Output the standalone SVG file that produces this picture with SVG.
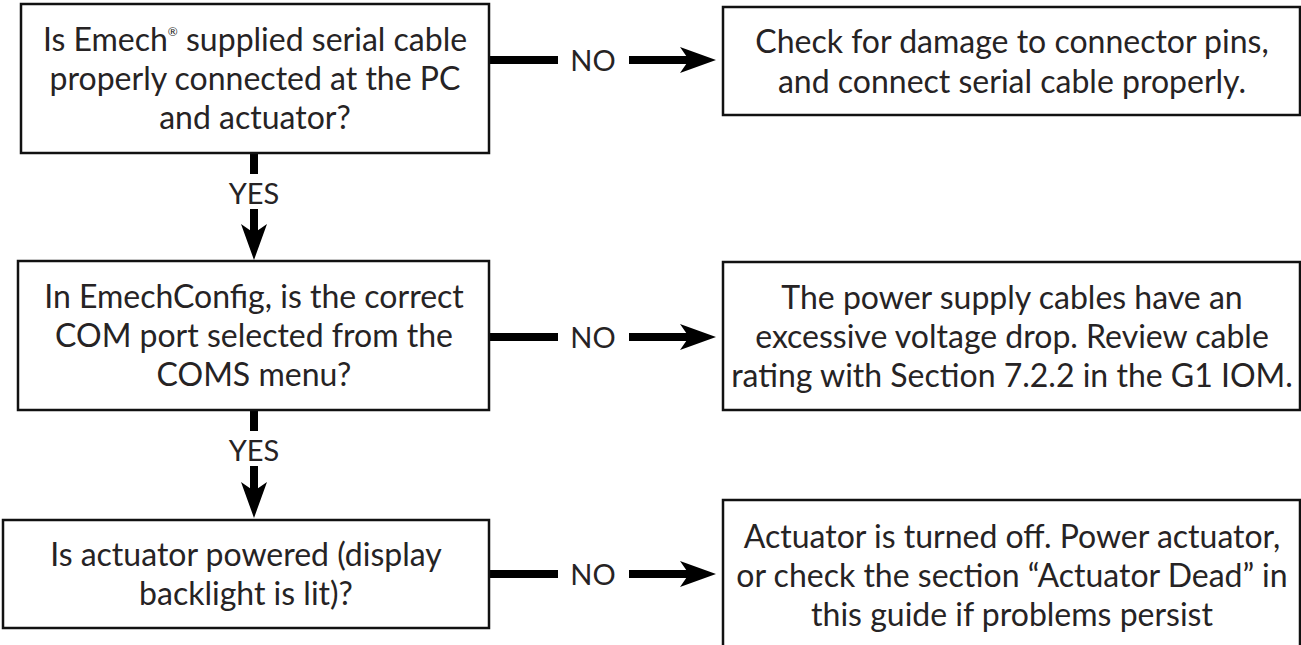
<svg xmlns="http://www.w3.org/2000/svg" width="1301" height="645" viewBox="0 0 1301 645">
<style>
.box{fill:#ffffff;stroke:#111111;stroke-width:2.5}
.t{font-family:Lato,"Open Sans","Liberation Sans",sans-serif;font-size:32px;fill:#262324;text-anchor:middle}
.lab{font-family:Lato,"Open Sans","Liberation Sans",sans-serif;font-size:29px;fill:#262324;text-anchor:middle}
.sh{stroke:#000000;stroke-width:8;fill:none}
.hd{fill:#000000}
</style>
<defs>
<path id="ah" d="M0 0 L-36 -13 L-27 0 L-36 13 Z"/>
</defs>
<rect width="1301" height="645" fill="#ffffff"/>
<g id="connectors">
<line class="sh" x1="489" y1="60" x2="558" y2="60"/>
<text class="lab" x="593" y="71">NO</text>
<line class="sh" x1="629" y1="60" x2="692" y2="60"/>
<use href="#ah" class="hd" transform="translate(716,60)"/>
<line class="sh" x1="489" y1="337" x2="558" y2="337"/>
<text class="lab" x="593" y="348">NO</text>
<line class="sh" x1="629" y1="337" x2="692" y2="337"/>
<use href="#ah" class="hd" transform="translate(716,337)"/>
<line class="sh" x1="489" y1="574" x2="558" y2="574"/>
<text class="lab" x="593" y="585">NO</text>
<line class="sh" x1="629" y1="574" x2="692" y2="574"/>
<use href="#ah" class="hd" transform="translate(716,574)"/>
<line class="sh" x1="254" y1="153" x2="254" y2="174"/>
<text class="lab" x="254" y="204">YES</text>
<line class="sh" x1="254" y1="209" x2="254" y2="236"/>
<use href="#ah" class="hd" transform="translate(254,260) rotate(90)"/>
<line class="sh" x1="254" y1="410" x2="254" y2="431"/>
<text class="lab" x="254" y="461">YES</text>
<line class="sh" x1="254" y1="466" x2="254" y2="494"/>
<use href="#ah" class="hd" transform="translate(254,518) rotate(90)"/>
</g>
<g id="q1">
<rect class="box" x="21" y="4" width="468" height="149"/>
<text class="t" x="255" y="51">Is Emech<tspan font-size="12" dy="-15">®</tspan><tspan dy="15"> supplied serial cable</tspan></text>
<text class="t" x="255" y="90">properly connected at the PC</text>
<text class="t" x="255" y="129">and actuator?</text>
</g>
<g id="a1">
<rect class="box" x="723" y="7" width="577" height="108"/>
<text class="t" x="1012" y="53">Check for damage to connector pins,</text>
<text class="t" x="1012" y="93">and connect serial cable properly.</text>
</g>
<g id="q2">
<rect class="box" x="18" y="261" width="471" height="149"/>
<text class="t" x="254" y="308">In EmechConfig, is the correct</text>
<text class="t" x="254" y="347">COM port selected from the</text>
<text class="t" x="254" y="386">COMS menu?</text>
</g>
<g id="a2">
<rect class="box" x="723" y="262" width="577" height="148"/>
<text class="t" x="1012" y="309">The power supply cables have an</text>
<text class="t" x="1012" y="348">excessive voltage drop. Review cable</text>
<text class="t" x="1012" y="387">rating with Section 7.2.2 in the G1 IOM.</text>
</g>
<g id="q3">
<rect class="box" x="3" y="520" width="486" height="108"/>
<text class="t" x="246" y="566">Is actuator powered (display</text>
<text class="t" x="246" y="605">backlight is lit)?</text>
</g>
<g id="a3">
<rect class="box" x="723" y="500" width="577" height="160"/>
<text class="t" x="1012" y="548">Actuator is turned off. Power actuator,</text>
<text class="t" x="1012" y="587">or check the section “Actuator Dead” in</text>
<text class="t" x="1012" y="626">this guide if problems persist</text>
</g>
</svg>
